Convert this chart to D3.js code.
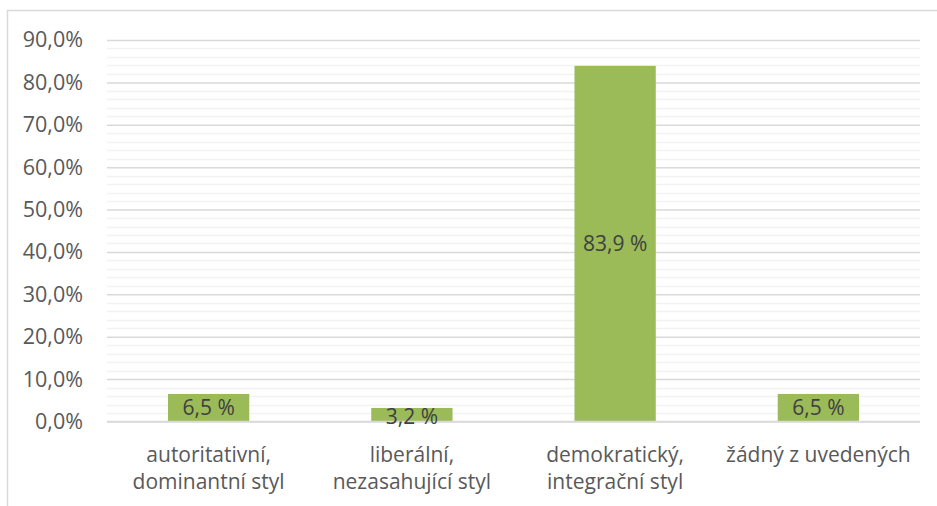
<!DOCTYPE html>
<html>
<head>
<meta charset="utf-8">
<script src="https://cdn.jsdelivr.net/npm/d3@7"></script>
<style>
	body { margin: 0; background: #fff; }
	text { font-family: "Open Sans", sans-serif; }
</style>
</head>
<body>
<div id="chart"></div>
<script>
var categories = [
	["autoritativní,", "dominantní styl"],
	["liberální,", "nezasahující styl"],
	["demokratický,", "integrační styl"],
	["žádný z uvedených"]
];
var values = [6.5, 3.2, 83.9, 6.5];
var majorTicks = [0, 10, 20, 30, 40, 50, 60, 70, 80, 90];
var minorTicks = d3.range(0, 90, 2).filter(function(d) { return d % 10 != 0; });

var width = 937,
    height = 506,
    margin = { top: 40, right: 17, bottom: 84.5, left: 107 };

var svg = d3.select("#chart")
	.append("svg")
	.attr("width", width)
	.attr("height", height);

/* chart area border (only top and left are visible in the crop) */
svg.append("path")
	.attr("d", "M7.5,506 V10.5 H937")
	.attr("fill", "none")
	.attr("stroke", "#d9d9d9")
	.attr("stroke-width", 1.5);

var x = d3.scaleBand()
	.domain(d3.range(categories.length))
	.range([margin.left, width - margin.right])
	.paddingInner(0.6)
	.paddingOuter(0.3);

var y = d3.scaleLinear()
	.domain([0, 90])
	.range([height - margin.bottom, margin.top]);

/* minor gridlines */
svg.append("g")
	.selectAll("line")
	.data(minorTicks)
	.enter().append("line")
		.attr("x1", margin.left)
		.attr("x2", width - margin.right)
		.attr("y1", function(d) { return Math.round(y(d)) + 0.5; })
		.attr("y2", function(d) { return Math.round(y(d)) + 0.5; })
		.attr("stroke", "#f2f2f2")
		.attr("stroke-width", 1.5);

/* major gridlines + y labels */
var yAxis = d3.axisLeft(y)
	.tickValues(majorTicks)
	.tickSize(-(width - margin.left - margin.right))
	.tickPadding(24)
	.tickFormat(function(d) { return d3.format(".1f")(d).replace(".", ",") + "%"; });

var yg = svg.append("g")
	.attr("transform", "translate(" + margin.left + ",0)")
	.call(yAxis);

yg.select(".domain").remove();
yg.selectAll(".tick line")
	.attr("stroke", "#d9d9d9")
	.attr("stroke-width", 1.5);
yg.selectAll(".tick text")
	.attr("fill", "#595959")
	.attr("font-size", 21.5);

/* bars */
svg.append("g")
	.selectAll("rect")
	.data(values)
	.enter().append("rect")
		.attr("x", function(d, i) { return x(i); })
		.attr("y", function(d) { return y(d); })
		.attr("width", x.bandwidth())
		.attr("height", function(d) { return y(0) - y(d); })
		.attr("fill", "#9bbb59");

/* x axis line */
svg.append("line")
	.attr("x1", margin.left)
	.attr("x2", width - margin.right)
	.attr("y1", y(0))
	.attr("y2", y(0))
	.attr("stroke", "#d9d9d9")
	.attr("stroke-width", 1.5);

/* value labels, centered in bars */
svg.append("g")
	.selectAll("text")
	.data(values)
	.enter().append("text")
		.attr("x", function(d, i) { return x(i) + x.bandwidth() / 2; })
		.attr("y", function(d) { return (y(d) + y(0)) / 2 + (d < 5 ? 2 : 0); })
		.attr("dy", "0.35em")
		.attr("text-anchor", "middle")
		.attr("font-size", 21)
		.attr("fill", "#404040")
		.text(function(d) { return d3.format(".1f")(d).replace(".", ",") + " %"; });

/* category labels */
var cat = svg.append("g")
	.selectAll("text")
	.data(categories)
	.enter().append("text")
		.attr("text-anchor", "middle")
		.attr("font-size", 21)
		.attr("fill", "#595959")
		.attr("transform", function(d, i) { return "translate(" + (x(i) + x.bandwidth() / 2) + ",0)"; });

cat.selectAll("tspan")
	.data(function(d) { return d; })
	.enter().append("tspan")
		.attr("x", 0)
		.attr("y", function(d, i) { return 455 + i * 27; })
		.attr("dy", "0.35em")
		.text(function(d) { return d; });
</script>
</body>
</html>
